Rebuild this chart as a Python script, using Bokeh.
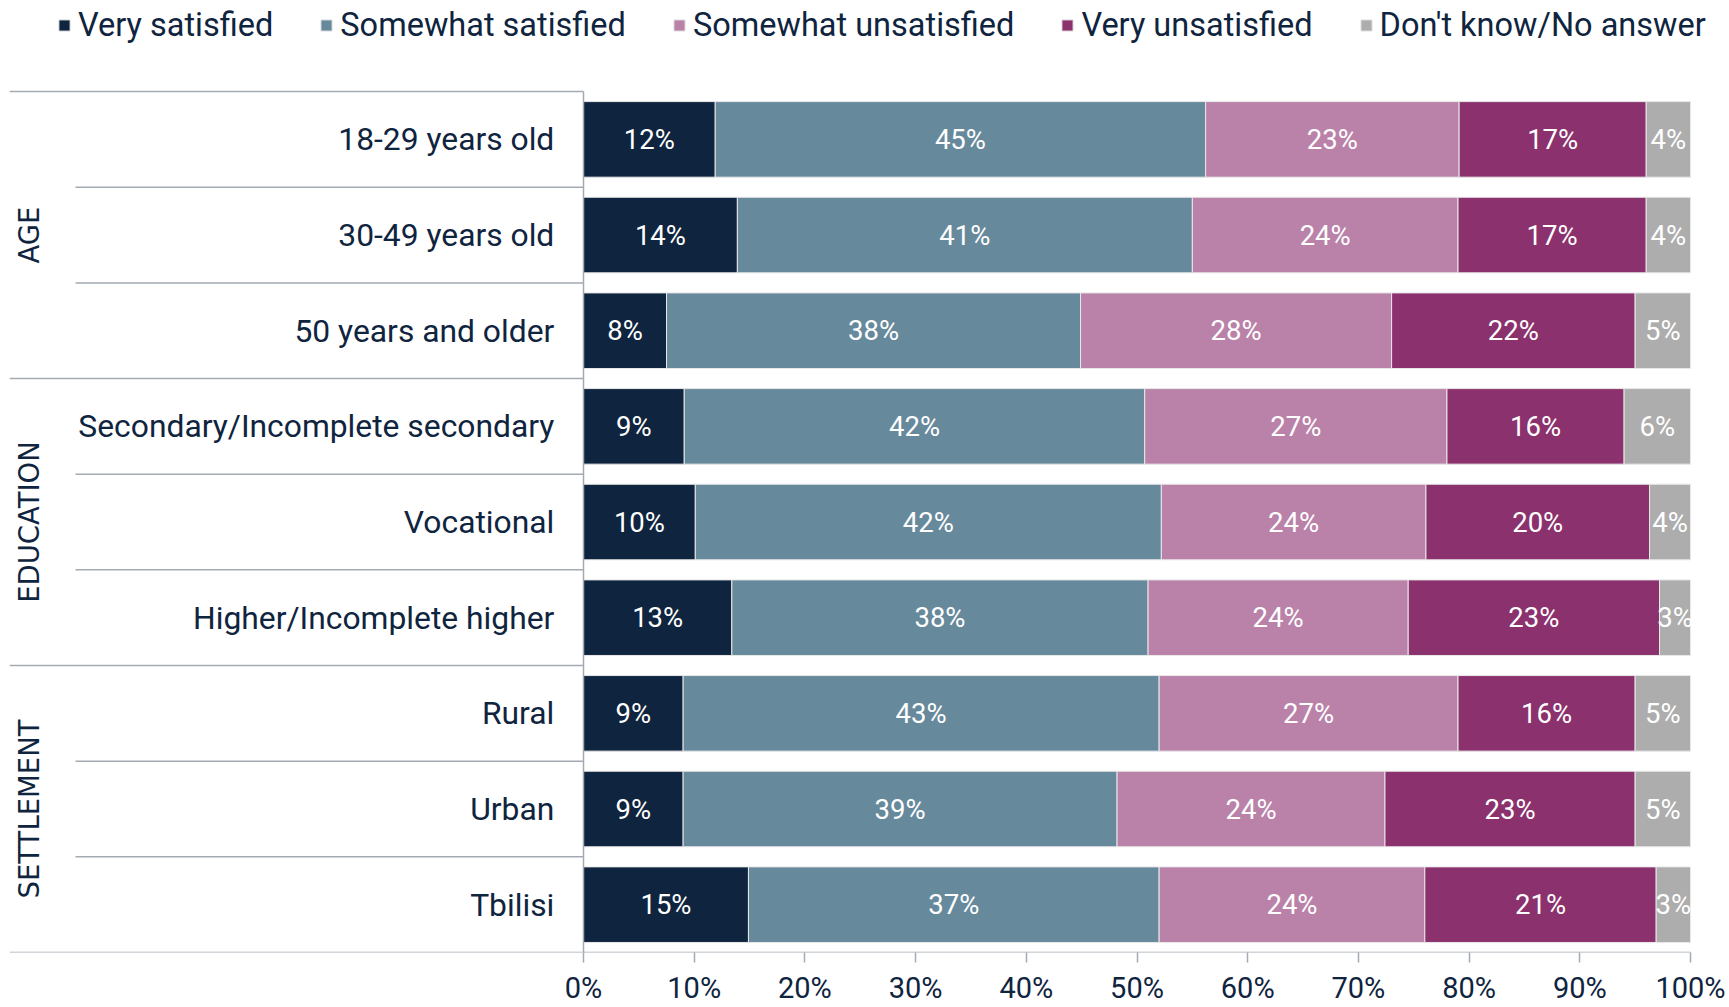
import math
from bokeh.plotting import figure
from bokeh.models import (ColumnDataSource, Range1d, FixedTicker, Legend, LegendItem,
                          LinearAxis)
from bokeh.core.properties import value
from bokeh.embed import file_html
from bokeh.resources import INLINE

# ---------------- data ----------------
categories = ["18-29 years old", "30-49 years old", "50 years and older",
              "Secondary/Incomplete secondary", "Vocational", "Higher/Incomplete higher",
              "Rural", "Urban", "Tbilisi"]
groups = ["AGE", "EDUCATION", "SETTLEMENT"]
group_sizes = [3, 3, 3]
series_names = ["Very satisfied", "Somewhat satisfied", "Somewhat unsatisfied",
                "Very unsatisfied", "Don't know/No answer"]

very_satisfied       = [11.9, 13.9, 7.5, 9.1, 10.1, 13.4, 9.0, 9.0, 14.9]
somewhat_satisfied   = [44.3, 41.1, 37.4, 41.6, 42.1, 37.6, 43.0, 39.2, 37.1]
somewhat_unsatisfied = [22.9, 24.0, 28.1, 27.3, 23.9, 23.5, 27.0, 24.2, 24.0]
very_unsatisfied     = [16.9, 17.0, 22.0, 16.0, 20.2, 22.7, 16.0, 22.6, 20.9]
dont_know            = [4.0, 4.0, 5.0, 6.0, 3.7, 2.8, 5.0, 5.0, 3.1]

very_satisfied_lbl       = [12, 14, 8, 9, 10, 13, 9, 9, 15]
somewhat_satisfied_lbl   = [45, 41, 38, 42, 42, 38, 43, 39, 37]
somewhat_unsatisfied_lbl = [23, 24, 28, 27, 24, 24, 27, 24, 24]
very_unsatisfied_lbl     = [17, 17, 22, 16, 20, 23, 16, 23, 21]
dont_know_lbl            = [4, 4, 5, 6, 4, 3, 5, 5, 3]

tick_values = [0, 10, 20, 30, 40, 50, 60, 70, 80, 90, 100]
tick_labels = ["0%", "10%", "20%", "30%", "40%", "50%", "60%", "70%", "80%", "90%", "100%"]

colors = ["#0F243E", "#67899C", "#BA82A9", "#8B316D", "#ADADAD"]
NAVY = "#0F243E"
LINE = "#A3AAB3"
FONT = "Roboto"

# ---------------- layout ----------------
W, H = 1729, 1007
frame_left = 9
zero_px = 583
right_px = 1690
px_per_unit = (right_px - zero_px) / 100.0
x_start = -(zero_px - frame_left) / px_per_unit
x_end = 100 + (W - right_px) / px_per_unit
row_px = 95.56
frame_bottom = 951
y_top = frame_bottom / row_px

n = len(categories)
ys = [n - 0.5 - i for i in range(n)]

p = figure(width=W, height=H, output_backend="svg", toolbar_location=None,
           x_range=Range1d(x_start, x_end), y_range=Range1d(0, y_top),
           y_axis_location=None, x_axis_location=None,
           min_border_left=frame_left, min_border_right=0,
           min_border_top=0, min_border_bottom=0)
p.outline_line_color = None
p.grid.visible = False
p.background_fill_color = "white"

series = [very_satisfied, somewhat_satisfied, somewhat_unsatisfied, very_unsatisfied, dont_know]
labels = [very_satisfied_lbl, somewhat_satisfied_lbl, somewhat_unsatisfied_lbl,
          very_unsatisfied_lbl, dont_know_lbl]
keys = ["s0", "s1", "s2", "s3", "s4"]
data = {"y": ys}
for k, s in zip(keys, series):
    data[k] = s
src = ColumnDataSource(data)
renderers = p.hbar_stack(keys, y="y", height=0.79, color=colors, source=src,
                         line_color="#E8E8E8", line_width=1)

# bar value labels
lx, ly, lt = [], [], []
for i in range(n):
    cum = 0.0
    for s, lab in zip(series, labels):
        lx.append(cum + s[i] / 2)
        ly.append(ys[i])
        lt.append(f"{lab[i]}%")
        cum += s[i]
p.text(x=lx, y=ly, text=lt, text_color="white", text_font=value(FONT),
       text_font_size="27.5px", text_align="center", text_baseline="middle")

# category labels
lab_x = -(zero_px - 553.8) / px_per_unit
p.text(x=[lab_x] * n, y=ys, text=categories, text_color=NAVY, text_font=value(FONT),
       text_font_size="31.8px", text_align="right", text_baseline="middle")

# group labels & separators
gx, gy = [], []
start = 0
group_bounds = [n]
for g, sz in zip(groups, group_sizes):
    gy.append(n - start - sz / 2)
    gx.append(-(zero_px - 28.7) / px_per_unit)
    start += sz
    group_bounds.append(n - start)
p.text(x=gx, y=gy, text=groups, text_color=NAVY, text_font=value("DejaVu Sans"),
       text_font_size="27.5px", text_align="center", text_baseline="middle", angle=math.pi / 2)

inner_x0 = -(zero_px - 75) / px_per_unit
sep_x0, sep_x1, sep_y = [], [], []
for b in range(n + 1):
    sep_y.append(b)
    sep_x0.append(x_start if b in group_bounds else inner_x0)
    sep_x1.append(tick_values[-1] if b == 0 else 0)   # bottom line doubles as the x axis line
p.segment(x0=sep_x0, y0=sep_y, x1=sep_x1, y1=sep_y, line_color=LINE, line_width=1.5)
p.segment(x0=[0], y0=[0], x1=[0], y1=[n], line_color=LINE, line_width=1.5)

# x axis (ticks + labels; its baseline is drawn above so it stops at 100%)
xaxis = LinearAxis(ticker=FixedTicker(ticks=tick_values),
                   major_label_overrides={v: t for v, t in zip(tick_values, tick_labels)})
xaxis.axis_line_color = None
xaxis.major_tick_line_color = LINE
xaxis.major_tick_line_width = 1.5
xaxis.major_tick_in = 0
xaxis.major_tick_out = 10
xaxis.minor_tick_line_color = None
xaxis.major_label_standoff = 8
xaxis.major_label_text_font = FONT
xaxis.major_label_text_font_size = "29px"
xaxis.major_label_text_color = NAVY
p.add_layout(xaxis, "below")

# legend
legend = Legend(items=[LegendItem(label=nm, renderers=[r]) for nm, r in zip(series_names, renderers)],
                orientation="horizontal", location=(57 - frame_left, frame_bottom - 42.5),
                glyph_width=14, glyph_height=14, label_height=36, label_standoff=7, spacing=46,
                padding=0, margin=0, border_line_color=None, background_fill_alpha=0,
                label_text_font=FONT, label_text_font_size="32.5px", label_text_color=NAVY)
p.add_layout(legend, "center")

open("out.html", "w").write(file_html(p, INLINE))
